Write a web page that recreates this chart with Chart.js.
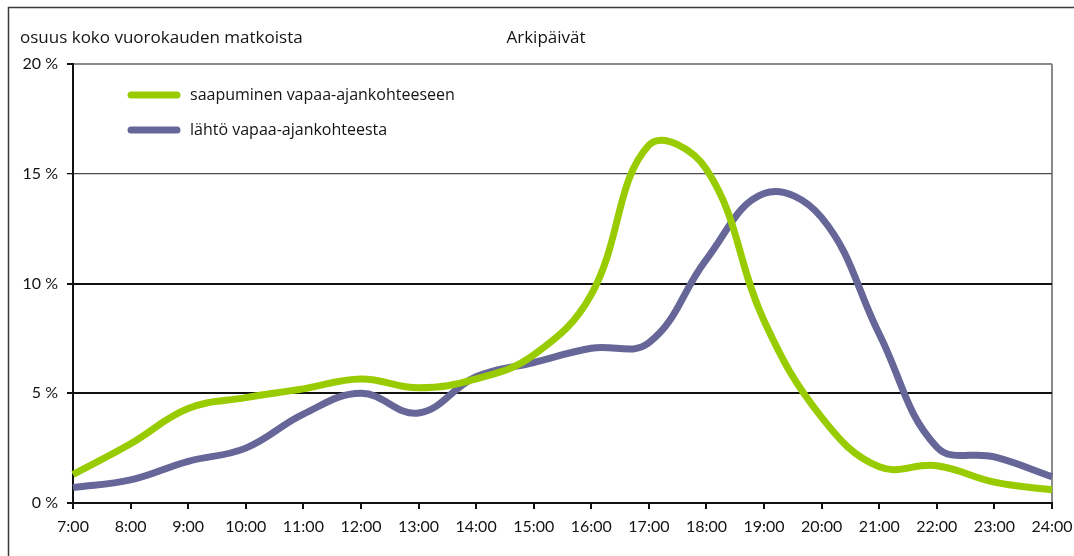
<!DOCTYPE html>
<html>
<head>
<meta charset="utf-8">
<script src="https://cdn.jsdelivr.net/npm/chart.js@4.4.1/dist/chart.umd.min.js"></script>
<style>
  html, body { margin: 0; padding: 0; background: #fff; }
  #wrap { width: 1074px; height: 556px; position: relative; }
</style>
</head>
<body>
<div id="wrap"><canvas id="c" width="1074" height="556"></canvas></div>
<script>
const categories = ["7:00","8:00","9:00","10:00","11:00","12:00","13:00","14:00","15:00","16:00","17:00","18:00","19:00","20:00","21:00","22:00","23:00","24:00"];
const arrivals   = [1.3, 2.7, 4.3, 4.8, 5.2, 5.65, 5.25, 5.65, 6.75, 9.5, 16.3, 15.2, 8.3, 3.9, 1.65, 1.7, 0.95, 0.6];
const departures = [0.7, 1.05, 1.9, 2.5, 4.05, 5.0, 4.1, 5.75, 6.4, 7.05, 7.3, 11.1, 14.1, 13.0, 7.7, 2.55, 2.1, 1.2];
const seriesNames = ["saapuminen vapaa-ajankohteeseen", "lähtö vapaa-ajankohteesta"];
const yTicks = [0, 5, 10, 15, 20];
const chartTitle = "Arkipäivät";
const yTitle = "osuus koko vuorokauden matkoista";

const FONT = "Lato, 'Open Sans', sans-serif";
const TFONT = "'Open Sans', Lato, sans-serif";
const TEXT = "#141414";

const decor = {
  id: 'decor',
  beforeDraw(chart) {
    const ctx = chart.ctx;
    ctx.save();
    ctx.strokeStyle = '#3a3a3a';
    ctx.lineWidth = 1.5;
    ctx.strokeRect(8.5, 7.5, 1200, 700);
    ctx.restore();
  },
  afterDraw(chart) {
    const ctx = chart.ctx;
    ctx.save();
    ctx.fillStyle = TEXT;
    ctx.font = "17px " + TFONT;
    ctx.textBaseline = 'middle';
    ctx.textAlign = 'left';
    ctx.fillText(yTitle, 20, 38);
    ctx.textAlign = 'center';
    ctx.fillText(chartTitle, 546, 38);
    // legend
    const ys = [95, 130];
    chart.data.datasets.forEach((ds, i) => {
      ctx.strokeStyle = ds.borderColor;
      ctx.lineWidth = 7;
      ctx.lineCap = 'round';
      ctx.beginPath();
      ctx.moveTo(131, ys[i]);
      ctx.lineTo(177, ys[i]);
      ctx.stroke();
      ctx.fillStyle = TEXT;
      ctx.textAlign = 'left';
      ctx.font = "16px " + TFONT;
      ctx.fillText(ds.label, 190, ys[i]);
    });
    ctx.restore();
  }
};

new Chart(document.getElementById('c'), {
  type: 'line',
  data: {
    labels: categories,
    datasets: [
      { label: seriesNames[0], data: arrivals, borderColor: '#99cc00', borderWidth: 7, tension: 0.4, pointRadius: 0, fill: false },
      { label: seriesNames[1], data: departures, borderColor: '#666699', borderWidth: 7, tension: 0.4, pointRadius: 0, fill: false }
    ]
  },
  options: {
    responsive: false,
    animation: false,
    events: [],
    layout: { padding: { top: 64, right: 0, left: 0, bottom: 0 } },
    plugins: { legend: { display: false }, title: { display: false }, tooltip: { enabled: false } },
    scales: {
      x: {
        type: 'category',
        offset: false,
        afterFit(s) { s.height = 53; s.paddingRight = 22; },
        border: { display: true, color: '#111', width: 2 },
        grid: {
          display: true,
          drawOnChartArea: true,
          color: (c) => (c.index === categories.length - 1 ? '#8a8a8a' : 'rgba(0,0,0,0)'),
          lineWidth: 2,
          tickColor: '#111',
          tickLength: 6
        },
        ticks: { color: TEXT, font: { family: FONT, size: 16 }, padding: 8, maxRotation: 0, autoSkip: false }
      },
      y: {
        min: 0, max: 20,
        afterFit(s) { s.width = 73; },
        afterBuildTicks(s) { s.ticks = yTicks.map(v => ({ value: v })); },
        border: { display: true, color: '#111', width: 2 },
        grid: {
          color: (c) => {
            const v = c.tick ? c.tick.value : 0;
            if (v === 20) return '#8a8a8a';
            if (v === 15) return '#4a4a4a';
            return '#111';
          },
          lineWidth: (c) => {
            const v = c.tick ? c.tick.value : 0;
            return v === 15 ? 1.3 : 2;
          },
          tickColor: '#111',
          tickLength: 6
        },
        ticks: { color: TEXT, font: { family: FONT, size: 16 }, padding: 9, callback: (v) => v + ' %' }
      }
    }
  },
  plugins: [decor]
});
</script>
</body>
</html>
